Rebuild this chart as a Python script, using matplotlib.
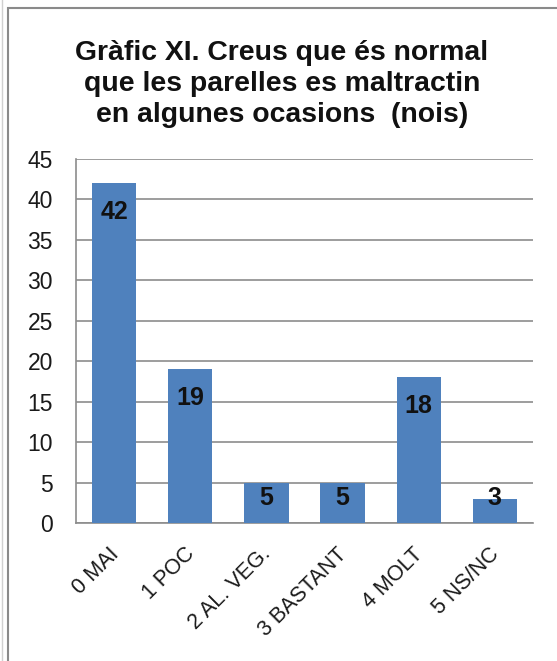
import matplotlib
matplotlib.use("Agg")
import matplotlib.pyplot as plt
import matplotlib.transforms as mtransforms
from matplotlib.patches import Rectangle
from matplotlib.lines import Line2D

categories = ["0 MAI", "1 POC", "2 AL. VEG.", "3 BASTANT", "4 MOLT", "5 NS/NC"]
values = [42, 19, 5, 5, 18, 3]
yticks = [0, 5, 10, 15, 20, 25, 30, 35, 40, 45]
title = "Gràfic XI. Creus que és normal\nque les parelles es maltractin\nen algunes ocasions  (nois)"

plt.rcParams['font.family'] = ['Liberation Sans', 'DejaVu Sans']

W, H = 557, 661
fig = plt.figure(figsize=(W / 100, H / 100), dpi=100)
fig.patch.set_facecolor('white')

# outer frame
fig.add_artist(Rectangle((8 / W, -0.1), 1.2, 1.1 - 8 / H, transform=fig.transFigure,
                         fill=False, edgecolor='#8a8a8a', linewidth=1.5))
fig.add_artist(Line2D([2 / W, 2 / W], [0, 1], transform=fig.transFigure,
                      color='#d0d0d0', linewidth=1))

ax_left, ax_right, ax_top, ax_bottom = 76, 533, 159, 523
ax = fig.add_axes([ax_left / W, 1 - ax_bottom / H, (ax_right - ax_left) / W, (ax_bottom - ax_top) / H])
x = list(range(len(categories)))
ax.bar(x, values, width=0.58, color='#4F81BD', zorder=3)

ax.set_ylim(0, 45)
ax.set_xlim(-0.5, len(categories) - 0.5)
ax.set_yticks(yticks)
ax.set_yticklabels([str(t) for t in yticks], fontsize=16.5, color='#1a1a1a')
ax.set_xticks(x)
ax.set_xticklabels(categories, rotation=45, ha='right', rotation_mode='anchor',
                   fontsize=15.5, color='#1a1a1a')
ax.tick_params(axis='y', length=0, pad=16.5)
ax.tick_params(axis='x', length=0, pad=12)
shift = mtransforms.ScaledTranslation(-6 / 100, -4 / 100, fig.dpi_scale_trans)
for lbl in ax.get_xticklabels():
    lbl.set_transform(lbl.get_transform() + shift)
ax.yaxis.grid(True, color='#8c8c8c', linewidth=1.2, zorder=0)
ax.set_axisbelow(True)
for side in ['top', 'right']:
    ax.spines[side].set_visible(False)
for side in ['left', 'bottom']:
    ax.spines[side].set_color('#8c8c8c')
    ax.spines[side].set_linewidth(1.2)

# value labels: inside end, kept clear of the axis for short bars
ppu = (ax_bottom - ax_top) / 45.0
for xi, v in zip(x, values):
    base = max(v * ppu - 36, 18)
    ax.annotate(str(v), (xi, 0), xytext=(0, base), textcoords='offset pixels',
                ha='center', va='baseline', fontsize=18, fontweight='bold',
                color='#111111', zorder=4)

fig.text(282 / W, 1 - 84 / H, title, ha='center', va='center', fontsize=20.4,
         fontweight='bold', color='#111111', linespacing=1.27)

fig.savefig('out.png', dpi=100)
